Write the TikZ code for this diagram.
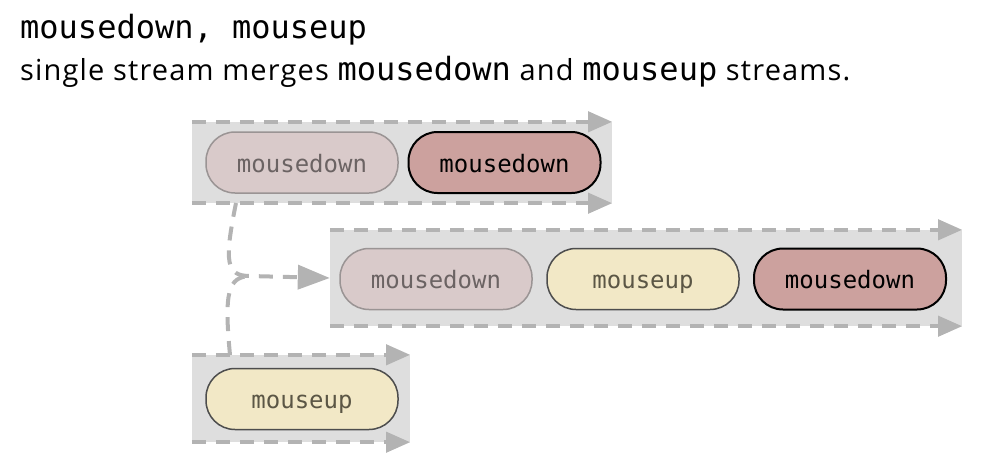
\documentclass[tikz,border=0pt]{standalone}
\usepackage{fontspec}
\setmainfont{Open Sans}[LetterSpace=4]
\setmonofont{DejaVu Sans Mono}
\usetikzlibrary{arrows.meta,positioning}
\definecolor{bandgray}{HTML}{DEDEDE}
\definecolor{dashgray}{HTML}{B3B3B3}
\definecolor{oldfill}{HTML}{D9CACA}
\definecolor{olddraw}{HTML}{9A9494}
\definecolor{oldtext}{HTML}{6B6363}
\definecolor{downfill}{HTML}{CCA19E}
\definecolor{upfill}{HTML}{F2E8C6}
\definecolor{updraw}{HTML}{4D4D4D}
\definecolor{uptext}{HTML}{5B5645}
\tikzset{
	band/.style={rectangle,fill=bandgray,inner sep=0pt},
	dashline/.style={draw=dashgray,line width=4pt,dash pattern=on 14pt off 10pt},
	flow/.style={dashline,-{Triangle[length=24pt,width=20pt,fill=dashgray]}},
	link/.style={dashline,-{Triangle[length=32pt,width=24pt,fill=dashgray]}},
	pill/.style={rectangle,rounded corners=29pt,minimum width=192pt,minimum height=61pt,line width=1.5pt,
		text height=21pt,text depth=2pt,font=\fontsize{24}{24}\selectfont\ttfamily},
	mold/.style={pill,fill=oldfill,draw=olddraw,text=oldtext},
	mdown/.style={pill,fill=downfill,draw=black,line width=2pt,text=black},
	mup/.style={pill,fill=upfill,draw=updraw,text=uptext}
}

\begin{document}
\begin{tikzpicture}[x=1pt,y=-1pt]
	\useasboundingbox (0,0) rectangle (982,464);
	\node[anchor=base west,inner sep=0pt,font=\fontsize{32}{32}\selectfont\ttfamily] (title) at (20,38) {mousedown, mouseup};
	\node[anchor=base west,inner sep=0pt,font=\fontsize{29}{29}\selectfont] (sub) at (20,80) {single stream merges {\ttfamily\fontsize{32}{32}\selectfont mousedown} and {\ttfamily\fontsize{32}{32}\selectfont mouseup} streams.};

	% streams
	\node[band,minimum width=420pt,minimum height=81pt] (topband) at (402,162.5) {};
	\node[band,minimum width=632pt,minimum height=96pt] (midband) at (646,278) {};
	\node[band,minimum width=218pt,minimum height=87pt] (botband) at (301,398.5) {};
	\foreach \b in {topband,midband,botband} {
		\draw[flow] (\b.north west) -- (\b.north east);
		\draw[flow] (\b.south west) -- (\b.south east);
	}

	% events
	\node[mold] (td1) at (302,162.5) {mousedown};
	\node[mdown] (td2) at (504.5,162.5) {mousedown};
	\node[mold] (md1) at (436,279) {mousedown};
	\node[mup] (mu1) at (643,279) {mouseup};
	\node[mdown] (md2) at (850,279) {mousedown};
	\node[mup] (bu1) at (302,399) {mouseup};

	% merge
	\coordinate (tsrc) at (236,203);
	\coordinate (bsrc) at (230,355);
	\coordinate (join) at (250,276);
	\draw[link] (tsrc) .. controls (224,262) and (226,276) .. (join) -- (midband.west);
	\draw[dashline] (bsrc) .. controls (224,292) and (228,277) .. (join);
\end{tikzpicture}
\end{document}
